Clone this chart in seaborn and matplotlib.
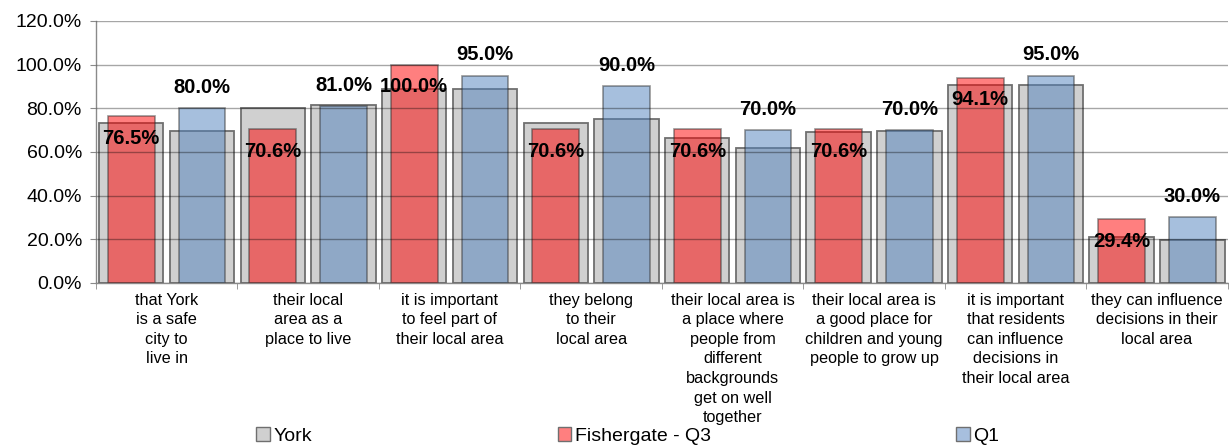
import matplotlib
matplotlib.use("Agg")
import matplotlib.pyplot as plt
from matplotlib.patches import Patch
import pandas as pd
import seaborn as sns

categories = [
    "that York\nis a safe\ncity to\nlive in",
    "their local\narea as a\nplace to live",
    "it is important\nto feel part of\ntheir local area",
    "they belong\nto their\nlocal area",
    "their local area is\na place where\npeople from\ndifferent\nbackgrounds\nget on well\ntogether",
    "their local area is\na good place for\nchildren and young\npeople to grow up",
    "it is important\nthat residents\ncan influence\ndecisions in\ntheir local area",
    "they can influence\ndecisions in their\nlocal area",
]
# York comparison (grey), one value behind each wave
york_q3 = [73.1, 80.3, 88.9, 73.2, 66.2, 69.2, 90.8, 20.9]
york_q1 = [69.7, 81.5, 88.9, 75.1, 61.7, 69.5, 90.9, 19.5]
# Fishergate
fishergate_q3 = [76.5, 70.6, 100.0, 70.6, 70.6, 70.6, 94.1, 29.4]
fishergate_q1 = [80.0, 81.0, 95.0, 90.0, 70.0, 70.0, 95.0, 30.0]
waves = ["Q3", "Q1"]

sns.set_style("white")
plt.rcParams["font.family"] = ["Liberation Sans", "DejaVu Sans"]
plt.rcParams["text.color"] = "black"
plt.rcParams["xtick.labelcolor"] = "black"
plt.rcParams["ytick.labelcolor"] = "black"

york = pd.DataFrame({
    "category": categories * 2,
    "wave": ["Q3"] * len(categories) + ["Q1"] * len(categories),
    "value": york_q3 + york_q1,
})
fish = pd.DataFrame({
    "category": categories * 2,
    "wave": ["Q3"] * len(categories) + ["Q1"] * len(categories),
    "value": fishergate_q3 + fishergate_q1,
})

fig, ax = plt.subplots(figsize=(12.29, 4.46), dpi=100)
fig.subplots_adjust(left=0.078, right=0.999, top=0.953, bottom=0.3655)

sns.barplot(data=york, x="category", y="value", hue="wave", order=categories,
            hue_order=waves, palette=["#d0d0d0", "#d0d0d0"], saturation=1,
            width=1.0, gap=0.09, edgecolor="#6f6f6f", linewidth=1.3,
            legend=False, ax=ax)
sns.barplot(data=fish, x="category", y="value", hue="wave", order=categories,
            hue_order=waves, palette=["#ff0000", "#4f81bd"], saturation=1,
            width=1.0, gap=0.34, alpha=0.5, edgecolor="#303030", linewidth=1.2,
            legend=False, ax=ax)

# data labels: Q3 inside the bar end, Q1 above the bar
for bar, v in zip(ax.containers[2], fishergate_q3):
    ax.annotate(f"{v:.1f}%", (bar.get_x() + bar.get_width() / 2, bar.get_height()),
                xytext=(0, -16), textcoords="offset points", ha="center", va="center",
                fontsize=14.5, fontweight="bold", color="black", zorder=5)
for bar, v in zip(ax.containers[3], fishergate_q1):
    ax.annotate(f"{v:.1f}%", (bar.get_x() + bar.get_width() / 2, bar.get_height()),
                xytext=(0, 15), textcoords="offset points", ha="center", va="center",
                fontsize=14.5, fontweight="bold", color="black", zorder=5)

ax.set_ylim(0, 120)
ax.set_xlim(-0.5, len(categories) - 0.5)
ax.set_yticks(range(0, 121, 20))
ax.set_yticklabels([f"{t:.1f}%" for t in range(0, 121, 20)])
ax.set_xlabel("")
ax.set_ylabel("")

ax.set_axisbelow(False)
ax.yaxis.grid(True, color="black", alpha=0.35, linewidth=1.0)
ax.xaxis.grid(False)

for s in ["top", "right"]:
    ax.spines[s].set_visible(False)
for s in ["left", "bottom"]:
    ax.spines[s].set_color("#8a8a8a")
    ax.spines[s].set_linewidth(1.0)

ax.set_xticks([i + 0.5 for i in range(-1, len(categories))], minor=True)
ax.tick_params(axis="x", which="major", length=0, pad=7, labelsize=11.7)
ax.tick_params(axis="x", which="minor", length=4, color="#8a8a8a", direction="out")
ax.tick_params(axis="y", length=4, color="#8a8a8a", direction="out", pad=6, labelsize=14)
ax.tick_params(left=True, bottom=False, which="major")
ax.tick_params(bottom=True, which="minor")
for lbl in ax.get_xticklabels():
    lbl.set_linespacing(1.38)

handles = [
    Patch(facecolor="#d0d0d0", edgecolor="#6f6f6f", label="York"),
    Patch(facecolor="#ff7f7f", edgecolor="#6f6f6f", label="Fishergate - Q3"),
    Patch(facecolor="#a7bfde", edgecolor="#6f6f6f", label="Q1"),
]
fig.legend(handles=handles, loc="center", bbox_to_anchor=(0.511, 0.022), ncol=3,
           frameon=False, fontsize=14, handlelength=0.7, handleheight=0.7,
           handletextpad=0.2, columnspacing=12.6, borderaxespad=0)

plt.savefig("out.png", dpi=100)
plt.close()
